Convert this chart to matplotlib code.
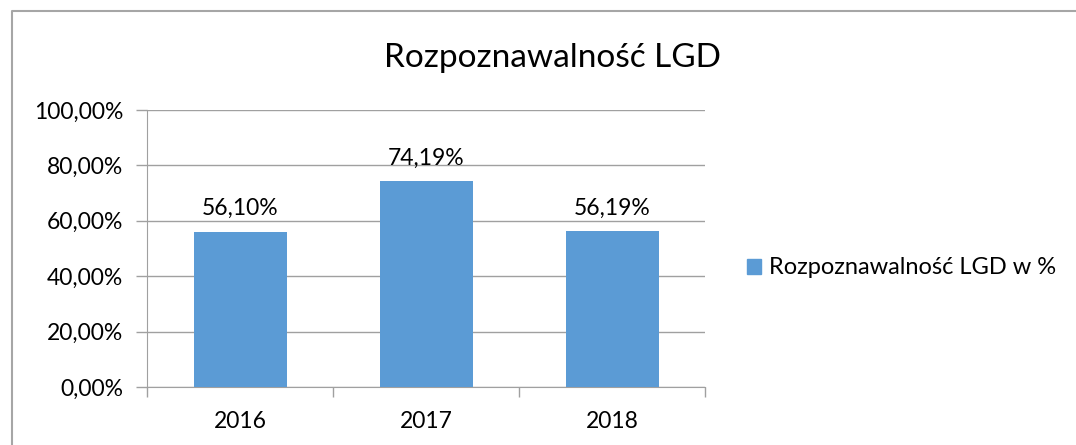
import matplotlib.pyplot as plt
from matplotlib.lines import Line2D
from matplotlib.patches import Patch
from matplotlib.ticker import FuncFormatter

plt.rcParams['font.family'] = ['Lato', 'DejaVu Sans']

# data
years = ['2016', '2017', '2018']
values = [56.10, 74.19, 56.19]
title = 'Rozpoznawalność LGD'
series_name = 'Rozpoznawalność LGD w %'

bar_color = '#5B9BD5'
grid_color = '#A0A0A0'

W, H = 1076, 445
fig = plt.figure(figsize=(W / 100, H / 100), dpi=100)
ax = fig.add_axes([147 / W, 1 - 387 / H, (705 - 147) / W, (387 - 110) / H])

x = list(range(len(years)))
ax.bar(x, values, width=0.5, color=bar_color, zorder=3)
ax.set_xlim(-0.5, len(years) - 0.5)
ax.set_ylim(0, 100)
ax.set_yticks(range(0, 101, 20))
ax.yaxis.set_major_formatter(FuncFormatter(lambda v, p: f'{v:.2f}%'.replace('.', ',')))
ax.grid(axis='y', color=grid_color, linewidth=1, zorder=0)

# category labels centred, tick marks at boundaries
ax.set_xticks(x)
ax.set_xticklabels(years)
ax.set_xticks([i - 0.5 for i in range(len(years) + 1)], minor=True)
ax.tick_params(axis='x', which='major', length=0, pad=17, labelsize=16.5)
ax.tick_params(axis='x', which='minor', length=7, color=grid_color, width=1)
ax.tick_params(axis='y', length=8, color=grid_color, width=1, pad=9, labelsize=16.5)

for s in ['top', 'right']:
    ax.spines[s].set_visible(False)
ax.spines['left'].set_color(grid_color)
ax.spines['bottom'].set_color(grid_color)

for xi, v in zip(x, values):
    ax.annotate(f'{v:.2f}%'.replace('.', ','), (xi, v), xytext=(0, 9),
                textcoords='offset points', ha='center', va='bottom', fontsize=16.5)

fig.text(552 / W, 1 - 58 / H, title, ha='center', va='center', fontsize=24)

fig.legend(handles=[Patch(color=bar_color, label=series_name)],
           loc='center left', bbox_to_anchor=(747 / W, 1 - 268 / H),
           frameon=False, fontsize=17, handlelength=0.6, handleheight=0.6,
           handletextpad=0.35, borderpad=0, borderaxespad=0)

# outer chart border (left and top visible)
fig.add_artist(Line2D([12 / W, 12 / W, 1], [0, 1 - 11 / H, 1 - 11 / H],
                      transform=fig.transFigure, color='#A6A6A6', linewidth=1.5))

fig.savefig('out.png', dpi=100)
